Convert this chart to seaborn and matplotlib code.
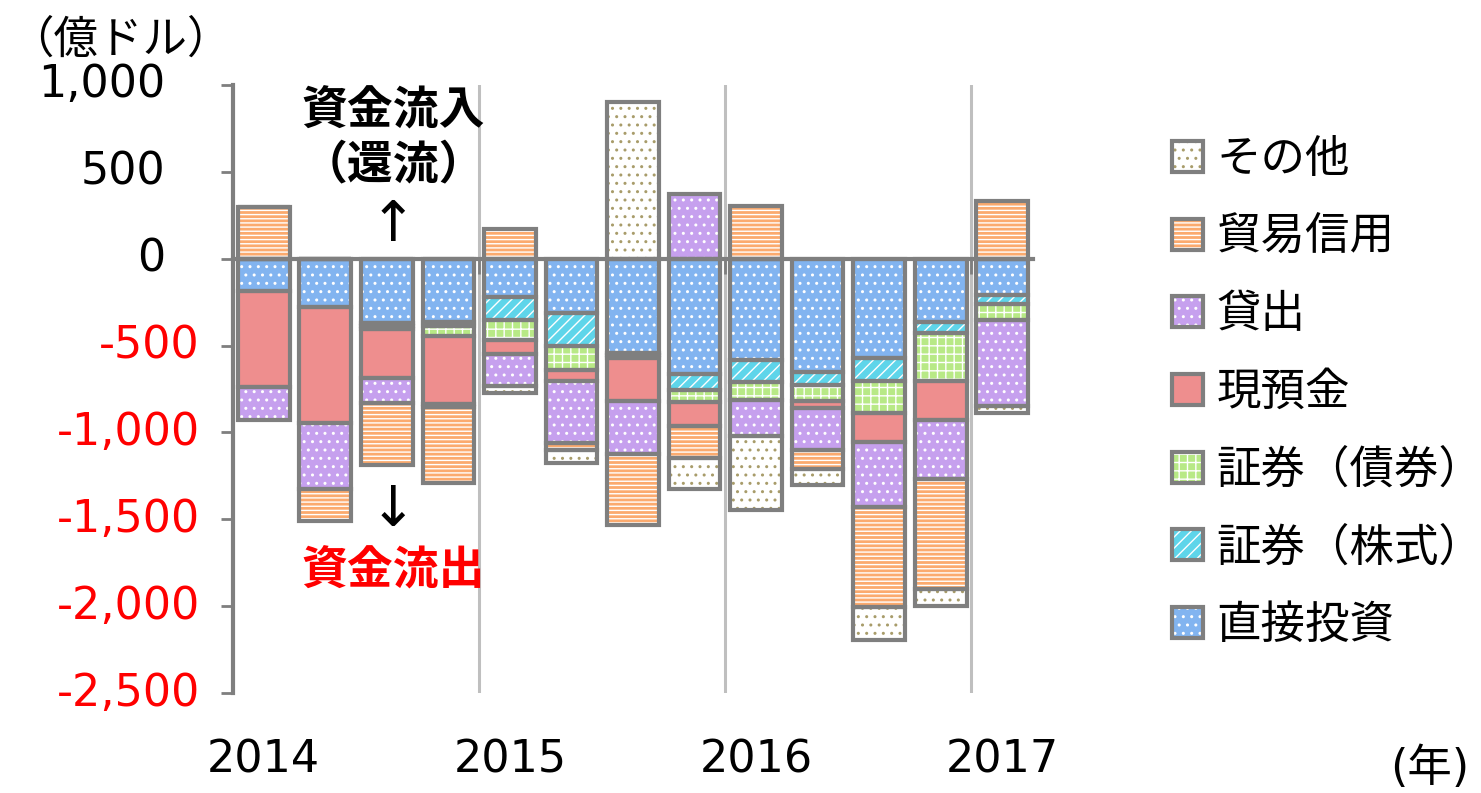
import numpy as np
import pandas as pd
import matplotlib
matplotlib.use('Agg')
import matplotlib.pyplot as plt
import seaborn as sns
from matplotlib.patches import Patch
from matplotlib.legend_handler import HandlerTuple
from matplotlib.transforms import blended_transform_factory

# quarterly data, 2014Q1 - 2017Q1 (億ドル)
quarters = ['2014Q1', '2014Q2', '2014Q3', '2014Q4',
            '2015Q1', '2015Q2', '2015Q3', '2015Q4',
            '2016Q1', '2016Q2', '2016Q3', '2016Q4',
            '2017Q1']
year_labels = ['2014', '2015', '2016', '2017']
year_positions = [0, 4, 8, 12]
year_breaks = [3.5, 7.5, 11.5]

direct = [-188, -278, -370, -365, -218, -312, -540, -661, -585, -653, -569, -366, -209]
equity = [0, 0, -15, -20, -134, -192, -15, -96, -127, -74, -133, -59, -52]
bonds = [0, 0, -20, -60, -117, -134, -15, -69, -99, -92, -189, -279, -92]
cash = [-550, -666, -284, -390, -79, -67, -250, -138, 0, -43, -166, -224, 0]
loans = [-191, -382, -143, -20, -182, -358, -306, 370, -209, -237, -374, -341, -493]
trade = [297, -184, -355, -435, 170, -40, -408, -182, 305, -112, -575, -634, 335]
other = [0, 0, 0, 0, -42, -71, 900, -178, -428, -91, -191, -97, -45]

series_names = ['直接投資', '証券（株式）', '証券（債券）', '現預金', '貸出', '貿易信用', 'その他']
series_values = [direct, equity, bonds, cash, loans, trade, other]
y_ticks = [1000, 500, 0, -500, -1000, -1500, -2000, -2500]

# face colour, hatch colour, hatch
styles = {
    '直接投資': ('#82B4F0', 'white', '..'),
    '証券（株式）': ('#5ED5EA', 'white', '///'),
    '証券（債券）': ('#B8E986', 'white', '++'),
    '現預金': ('#EE8E8E', '#EE8E8E', None),
    '貸出': ('#C6A0EE', 'white', '..'),
    '貿易信用': ('#FBAA6E', 'white', '----'),
    'その他': ('white', '#A89C6A', '..'),
}
GRAY = '#7F7F7F'

sns.set_style('white')
plt.rcParams['font.family'] = ['DejaVu Sans', 'Noto Sans CJK JP']
plt.rcParams['text.color'] = 'black'
plt.rcParams['hatch.linewidth'] = 1.0

fig = plt.figure(figsize=(14.81, 7.93), dpi=100)
ax = fig.add_axes([233 / 1481, 1 - 693 / 793, 800 / 1481, 608 / 793])

for x in year_breaks:
    ax.axvline(x, color='#BFBFBF', lw=2.2, zorder=0)

pos_base = np.zeros(len(quarters))
neg_base = np.zeros(len(quarters))
for name, vals in zip(series_names, series_values):
    vals = np.array(vals, dtype=float)
    base = np.where(vals >= 0, pos_base, neg_base)
    df = pd.DataFrame({'quarter': quarters, 'value': vals})
    face, hcol, hatch = styles[name]
    sns.barplot(data=df, x='quarter', y='value', bottom=base, color=face,
                saturation=1, width=0.84, errorbar=None, edgecolor=hcol,
                hatch=hatch, linewidth=0, ax=ax, zorder=2)
    sns.barplot(data=df, x='quarter', y='value', bottom=base, color=GRAY,
                fill=False, width=0.84, errorbar=None, linewidth=3,
                ax=ax, zorder=3)
    pos_base = pos_base + np.where(vals >= 0, vals, 0)
    neg_base = neg_base + np.where(vals < 0, vals, 0)

ax.set_xlim(-0.5, len(quarters) - 0.5)
ax.set_ylim(-2500, 1000)
ax.set_xlabel('')
ax.set_ylabel('')
sns.despine(ax=ax, top=True, right=True)
ax.spines['left'].set_color(GRAY)
ax.spines['left'].set_linewidth(3)
ax.spines['bottom'].set_position(('data', 0))
ax.spines['bottom'].set_color(GRAY)
ax.spines['bottom'].set_linewidth(3)
ax.spines['bottom'].set_zorder(4)

ax.set_xticks(year_breaks)
ax.set_xticklabels([])
ax.tick_params(axis='x', direction='out', length=11, width=2, color=GRAY, bottom=True)
ax.set_yticks(y_ticks)
ax.set_yticklabels([])
ax.tick_params(axis='y', direction='out', length=9, width=2, color=GRAY, left=True)

# y tick labels (positive black, negative red)
ytrans = blended_transform_factory(ax.transAxes, ax.transData)
for v in y_ticks:
    if v < 0:
        ax.text(-33 / 800, v, f'{v:,}', transform=ytrans, ha='right', va='center',
                fontsize=32, color='#FF0000')
    else:
        ax.text(-68 / 800, v, f'{v:,}', transform=ytrans, ha='right', va='center',
                fontsize=32, color='black')

xtrans = blended_transform_factory(ax.transData, ax.transAxes)
for pos, lab in zip(year_positions, year_labels):
    ax.text(pos, -0.11, lab, transform=xtrans, ha='center', va='center', fontsize=32)

# annotations
ax.text(2.1, 845, '資金流入', ha='center', va='center', fontsize=33, fontweight='bold')
ax.text(2.1, 535, '（還流）', ha='center', va='center', fontsize=33, fontweight='bold')
ax.text(2.1, 190, '↑', ha='center', va='center', fontsize=40)
ax.text(2.1, -1455, '↓', ha='center', va='center', fontsize=40)
ax.text(2.1, -1802, '資金流出', ha='center', va='center', fontsize=33,
        fontweight='bold', color='#FF0000')

fig.text(120 / 1481, 1 - 40 / 793, '（億ドル）', ha='center', va='center', fontsize=32)
fig.text(1430 / 1481, 1 - 768 / 793, '(年)', ha='center', va='center', fontsize=32)

# legend
handles = []
for name in series_names[::-1]:
    face, hcol, hatch = styles[name]
    handles.append((Patch(facecolor=face, edgecolor=hcol, hatch=hatch, linewidth=0),
                    Patch(facecolor='none', edgecolor=GRAY, linewidth=3)))
fig.legend(handles, series_names[::-1],
           handler_map={tuple: HandlerTuple(ndivide=1, pad=0)},
           loc='upper left', bbox_to_anchor=(1172 / 1481, 1 - 138 / 793),
           frameon=False, fontsize=32, handlelength=0.7, handleheight=0.7,
           handletextpad=0.3, labelspacing=0.78, borderpad=0, borderaxespad=0)

fig.savefig('out.png', dpi=100)
plt.close(fig)
